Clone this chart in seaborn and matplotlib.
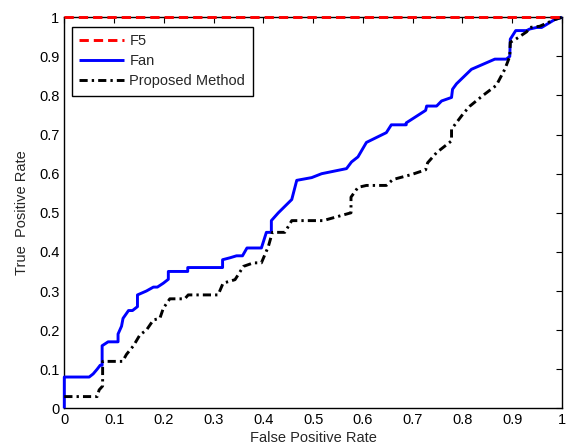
import numpy as np
import pandas as pd
import matplotlib
matplotlib.use("Agg")
import matplotlib.pyplot as plt
import seaborn as sns

# ---- data ----
f5_fpr = [0.0, 1.0]
f5_tpr = [1.0, 1.0]

fan_fpr = [0, 0, 0.05, 0.058, 0.066, 0.072, 0.076, 0.076, 0.088, 0.108, 0.108, 0.115,
           0.118, 0.129, 0.137, 0.147, 0.147, 0.165, 0.179, 0.187, 0.199, 0.209, 0.209,
           0.248, 0.248, 0.318, 0.318, 0.333, 0.346, 0.358, 0.367, 0.396, 0.406, 0.416,
           0.416, 0.43, 0.457, 0.467, 0.497, 0.517, 0.567, 0.577, 0.59, 0.607, 0.647,
           0.657, 0.687, 0.687, 0.726, 0.728, 0.748, 0.758, 0.778, 0.78, 0.788, 0.818,
           0.865, 0.888, 0.895, 0.896, 0.907, 0.929, 0.935, 0.949, 0.959, 0.985, 1.0]
fan_tpr = [0, 0.08, 0.08, 0.088, 0.10, 0.11, 0.11, 0.16, 0.17, 0.17, 0.19, 0.21,
           0.23, 0.25, 0.25, 0.26, 0.29, 0.30, 0.31, 0.31, 0.32, 0.33, 0.35,
           0.35, 0.36, 0.36, 0.38, 0.385, 0.39, 0.39, 0.41, 0.41, 0.45, 0.45,
           0.48, 0.50, 0.534, 0.583, 0.59, 0.60, 0.613, 0.63, 0.643, 0.68, 0.705,
           0.725, 0.725, 0.73, 0.762, 0.773, 0.773, 0.786, 0.795, 0.816, 0.83, 0.867,
           0.893, 0.893, 0.90, 0.944, 0.966, 0.966, 0.97, 0.974, 0.974, 0.994, 1.0]

pm_fpr = [0, 0.066, 0.07, 0.077, 0.077, 0.117, 0.125, 0.139, 0.152, 0.165, 0.179,
          0.192, 0.199, 0.212, 0.242, 0.249, 0.309, 0.319, 0.343, 0.36, 0.38, 0.396,
          0.41, 0.418, 0.443, 0.457, 0.52, 0.576, 0.576, 0.59, 0.607, 0.647, 0.66,
          0.698, 0.726, 0.73, 0.748, 0.778, 0.778, 0.803, 0.815, 0.841, 0.868, 0.885,
          0.895, 0.896, 0.907, 0.929, 0.935, 0.955, 0.985, 1.0]
pm_tpr = [0.03, 0.03, 0.047, 0.057, 0.12, 0.12, 0.138, 0.16, 0.188, 0.20, 0.226,
          0.23, 0.256, 0.28, 0.28, 0.29, 0.29, 0.32, 0.329, 0.363, 0.372, 0.372,
          0.414, 0.45, 0.45, 0.48, 0.48, 0.50, 0.54, 0.565, 0.57, 0.57, 0.585,
          0.598, 0.61, 0.628, 0.654, 0.684, 0.714, 0.756, 0.773, 0.80, 0.826, 0.867,
          0.90, 0.936, 0.944, 0.963, 0.974, 0.977, 0.994, 1.0]

series_names = ["F5", "Fan", "Proposed Method"]
xticks = [0, 0.1, 0.2, 0.3, 0.4, 0.5, 0.6, 0.7, 0.8, 0.9, 1]
yticks = [0, 0.1, 0.2, 0.3, 0.4, 0.5, 0.6, 0.7, 0.8, 0.9, 1]
xtick_labels = ["0", "0.1", "0.2", "0.3", "0.4", "0.5", "0.6", "0.7", "0.8", "0.9", "1"]
ytick_labels = ["0", "0.1", "0.2", "0.3", "0.4", "0.5", "0.6", "0.7", "0.8", "0.9", "1"]

# ---- build long table ----
frames = []
for name, xs, ys in zip(series_names, [f5_fpr, fan_fpr, pm_fpr], [f5_tpr, fan_tpr, pm_tpr]):
    frames.append(pd.DataFrame({"fpr": xs, "tpr": ys, "method": name,
                                "order": np.arange(len(xs))}))
df = pd.concat(frames, ignore_index=True)

sns.set_style("white")
plt.rcParams["font.family"] = ["Liberation Sans", "DejaVu Sans"]

fig = plt.figure(figsize=(5.66, 4.48), dpi=100)
ax = fig.add_axes([0.1136, 0.0886, 0.8794, 0.8728])

colors = {"F5": "#ff0000", "Fan": "#0000ff", "Proposed Method": "#000000"}
styles = {"F5": (0, (3.2, 1.7)), "Fan": "-", "Proposed Method": (0, (2.8, 1.4, 0.8, 1.4))}

for name in series_names:
    sub = df[df["method"] == name]
    sns.lineplot(data=sub, x="fpr", y="tpr", ax=ax, sort=False, estimator=None,
                 color=colors[name], linewidth=2.1, label=name, clip_on=False,
                 zorder=5 if name == "F5" else 3)

for line, name in zip(ax.get_lines(), series_names):
    line.set_linestyle(styles[name])
    line.set_solid_capstyle("butt")
    line.set_dash_capstyle("butt")

FS = 10.5
ax.set_xlim(0, 1)
ax.set_ylim(0, 1)
ax.set_xticks(xticks)
ax.set_xticklabels(xtick_labels)
ax.set_yticks(yticks)
ax.set_yticklabels(ytick_labels)
ax.tick_params(direction="in", length=4, width=0.8, top=True, right=True,
               labelsize=FS, colors="black", pad=3.5)
for sp in ax.spines.values():
    sp.set_visible(True)
    sp.set_color("black")
    sp.set_linewidth(1.0)

ax.set_xlabel("False Positive Rate", fontsize=FS, labelpad=3)
ax.set_ylabel("True  Positive Rate", fontsize=FS, labelpad=7)

leg = ax.legend(loc="upper left", bbox_to_anchor=(0.015, 0.976), borderaxespad=0,
                fontsize=FS, handlelength=3.1, handletextpad=0.35, labelspacing=0.42,
                borderpad=0.5, fancybox=False, framealpha=1, edgecolor="black")
leg.get_frame().set_linewidth(1.0)
for h, name in zip(leg.get_lines(), series_names):
    h.set_linestyle(styles[name])
    h.set_linewidth(2.1)

fig.savefig("out.png", dpi=100)
